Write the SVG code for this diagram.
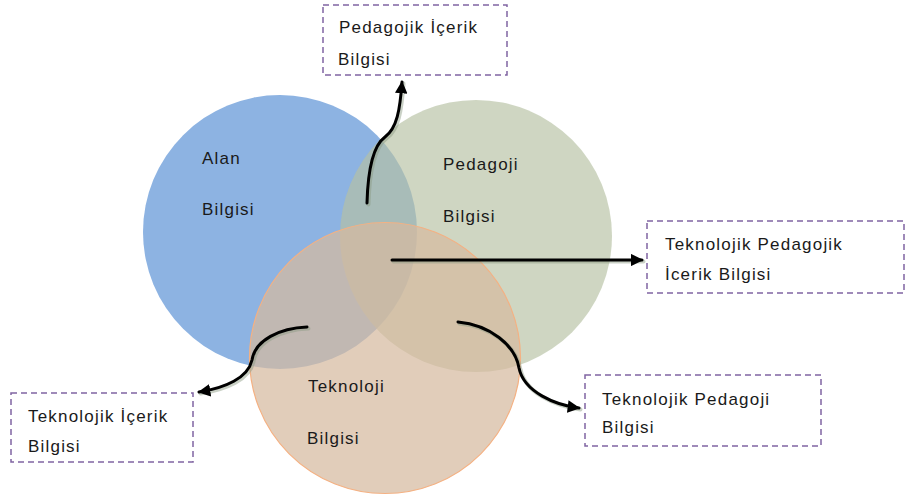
<svg xmlns="http://www.w3.org/2000/svg" width="908" height="497" viewBox="0 0 908 497">
<style>
.lbl{font-family:"Liberation Sans",Arial,sans-serif;font-size:17px;letter-spacing:1.2px;fill:#1a1a1a}
.box{fill:#ffffff;stroke:#8064a2;stroke-width:1.5;stroke-dasharray:6 4}
.con{fill:none;stroke:#000;stroke-width:3;stroke-linecap:round}
.sh{fill:none;stroke:#8a9a80;stroke-width:4;stroke-opacity:0.45;stroke-linecap:round}
</style>
<defs>
<marker id="ah" viewBox="0 0 10 10" refX="9" refY="5" markerWidth="4.2" markerHeight="4.2" orient="auto" markerUnits="strokeWidth">
<path d="M0,0 L10,5 L0,10 Z" fill="#000"/>
</marker>
</defs>
<rect width="908" height="497" fill="#fff"/>
<g id="alan">
<circle cx="280" cy="232" r="137" fill="#8db3e2"/>
<text class="lbl" x="202" y="164">Alan</text>
<text class="lbl" x="202" y="215">Bilgisi</text>
</g>
<g id="pedagoji">
<circle cx="476" cy="236" r="136" fill="rgb(182,193,163)" fill-opacity="0.66"/>
<text class="lbl" x="443" y="170">Pedagoji</text>
<text class="lbl" x="443" y="222">Bilgisi</text>
</g>
<g id="teknoloji">
<circle cx="385" cy="358" r="135.5" fill="rgb(214,186,160)" fill-opacity="0.72" stroke="#f4b183" stroke-width="1.2"/>
<text class="lbl" x="308" y="392">Teknoloji</text>
<text class="lbl" x="307" y="444">Bilgisi</text>
</g>
<g id="pib">
<rect class="box" x="323" y="5" width="184" height="70"/>
<text class="lbl" x="339" y="33">Pedagojik İçerik</text>
<text class="lbl" x="338" y="65">Bilgisi</text>
</g>
<g id="tpib">
<rect class="box" x="647" y="221" width="257" height="72"/>
<text class="lbl" x="665" y="250">Teknolojik Pedagojik</text>
<text class="lbl" x="665" y="280">İcerik Bilgisi</text>
</g>
<g id="tib">
<rect class="box" x="11" y="393" width="182" height="69"/>
<text class="lbl" x="28" y="422">Teknolojik İçerik</text>
<text class="lbl" x="28" y="452">Bilgisi</text>
</g>
<g id="tpb">
<rect class="box" x="585" y="375" width="236" height="71"/>
<text class="lbl" x="602" y="405">Teknolojik Pedagoji</text>
<text class="lbl" x="602" y="433">Bilgisi</text>
</g>
<g id="connectors">
<g transform="translate(1.5,1.5)">
<path class="sh" d="M367,203 C368,165 374,145 385,137 C397,128 400,110 402,82"/>
<path class="sh" d="M392,260 L642,260"/>
<path class="sh" d="M307,327 C280,328 255,340 252,360 C248,378 225,388 199,392"/>
<path class="sh" d="M458,322 C490,325 515,345 519,368 C524,392 555,405 579,408"/>
</g>
<path class="con" d="M367,203 C368,165 374,145 385,137 C397,128 400,110 402,82" marker-end="url(#ah)"/>
<path class="con" d="M392,260 L642,260" marker-end="url(#ah)"/>
<path class="con" d="M307,327 C280,328 255,340 252,360 C248,378 225,388 199,392" marker-end="url(#ah)"/>
<path class="con" d="M458,322 C490,325 515,345 519,368 C524,392 555,405 579,408" marker-end="url(#ah)"/>
</g>
</svg>
